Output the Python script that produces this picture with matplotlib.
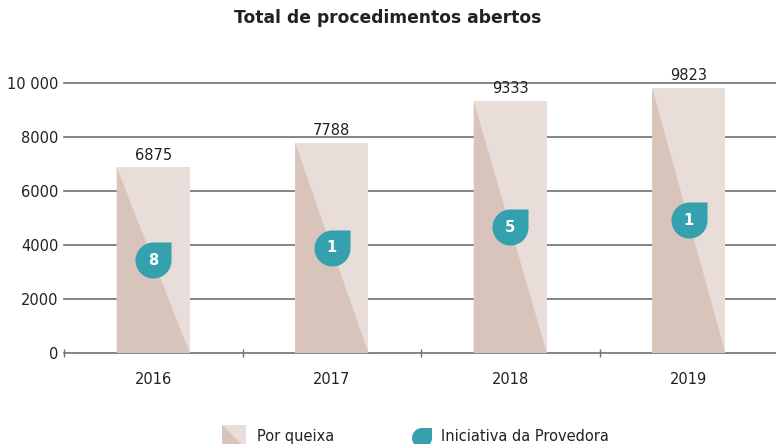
import numpy as np
import matplotlib.pyplot as plt
from matplotlib.path import Path
from matplotlib.patches import Rectangle, Polygon, PathPatch
import matplotlib.transforms as mtransforms

years = ['2016', '2017', '2018', '2019']
queixa = [6875, 7788, 9333, 9823]
iniciativa = [8, 1, 5, 1]
ytick_vals = [0, 2000, 4000, 6000, 8000, 10000]
ytick_labels = ['0', '2000', '4000', '6000', '8000', '10 000']

light = '#E8DDD9'
dark = '#D9C4BC'
teal = '#35A1AF'
grid_c = '#707070'

plt.rcParams['font.family'] = ['DejaVu Sans']

# drop-shaped marker: circle with a square top-right corner
arc = Path.arc(90, 360)
verts = list(arc.vertices) + [(1, 1), (0, 1), (0, 1)]
codes = list(arc.codes) + [Path.LINETO, Path.LINETO, Path.CLOSEPOLY]
drop = Path(verts, codes)

fig = plt.figure(figsize=(7.76, 4.44), dpi=100)
ax = fig.add_axes([64/776, 1 - 353/444, (778 - 64)/776, (353 - 83)/444])

x = np.arange(len(years))
w = 0.41
for i, h in enumerate(queixa):
    x0 = x[i] - w/2
    ax.add_patch(Rectangle((x0, 0), w, h, facecolor=light, edgecolor='none', zorder=3))
    ax.add_patch(Polygon([(x0, 0), (x0, h), (x0 + w, 0)], closed=True,
                         facecolor=dark, edgecolor='none', zorder=3))
    ax.text(x[i], h + 180, f'{h}', ha='center', va='bottom', fontsize=10.5, color='#222222')
    ax.scatter(x[i], h/2, marker=drop, s=700, color=teal, zorder=4, linewidths=0)
    ax.text(x[i], h/2, str(iniciativa[i]), ha='center', va='center', fontsize=10.5,
            color='white', fontweight='bold', zorder=5)

ax.set_xlim(-0.5, 3.5)
ax.set_ylim(0, 10000)
ax.set_yticks(ytick_vals)
ax.set_yticklabels(ytick_labels)
for yv in ytick_vals[1:]:
    ax.axhline(yv, color=grid_c, lw=1.2, zorder=1, clip_on=False)
ax.tick_params(axis='y', length=0, pad=4, labelsize=10.5, colors='#222222')
ax.set_xticks(x)
ax.set_xticklabels(years)
ax.tick_params(axis='x', length=0, pad=14, labelsize=10.5, colors='#222222')
ax.set_xticks(np.arange(-0.5, 4, 1), minor=True)
ax.tick_params(axis='x', which='minor', length=6, direction='inout', color=grid_c, width=1)
for s in ['top', 'right', 'left']:
    ax.spines[s].set_visible(False)
ax.spines['bottom'].set_color(grid_c)
ax.spines['bottom'].set_linewidth(1.2)
ax.spines['bottom'].set_zorder(2)

fig.text(0.5, 1 - 18/444, 'Total de procedimentos abertos', ha='center', va='center',
         fontsize=12.3, fontweight='bold', color='#222222')

# legend drawn in pixel coords
lax = fig.add_axes([0, 0, 1, 1], zorder=-1)
lax.set_xlim(0, 776)
lax.set_ylim(444, 0)
lax.axis('off')
lax.add_patch(Rectangle((222, 425), 24, 24, facecolor=light, edgecolor='none'))
lax.add_patch(Polygon([(222, 425), (222, 449), (246, 449)], closed=True,
                      facecolor=dark, edgecolor='none'))
lax.text(257, 436, 'Por queixa', ha='left', va='center', fontsize=10.5, color='#222222')
tr = mtransforms.Affine2D().scale(10, -10).translate(422, 438) + lax.transData
lax.add_patch(PathPatch(drop, facecolor=teal, edgecolor='none', transform=tr))
lax.text(441, 436, 'Iniciativa da Provedora', ha='left', va='center', fontsize=10.5,
         color='#222222')

fig.savefig('out.png', dpi=100)
